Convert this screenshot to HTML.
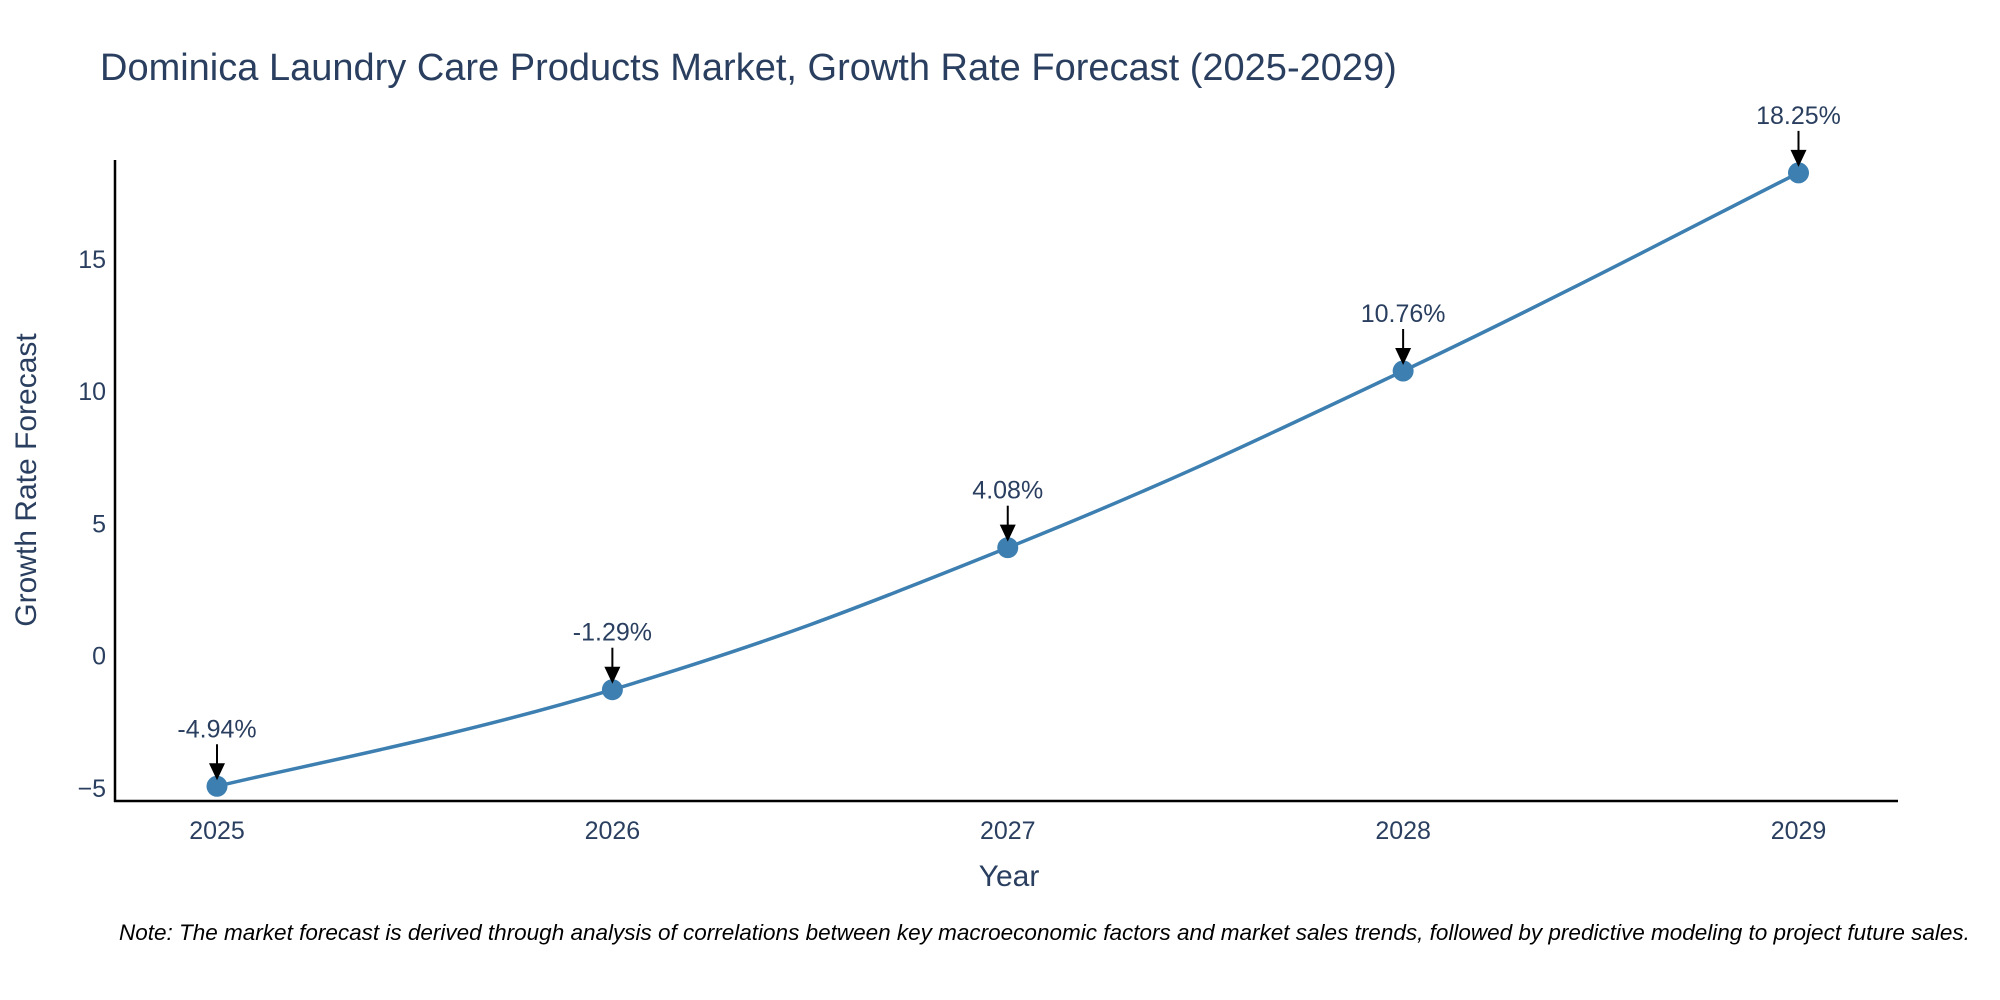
<!DOCTYPE html>
<html><head><meta charset="utf-8"><style>
html,body{margin:0;padding:0;background:#fff}
svg{display:block;font-family:"Liberation Sans","DejaVu Sans",sans-serif}
</style></head><body>
<svg id="chart" width="2000" height="1000" viewBox="0 0 2000 1000">
<text x="100" y="80" font-size="38" fill="#2a3f5f">Dominica Laundry Care Products Market, Growth Rate Forecast (2025-2029)</text>
<g id="plot"></g>
<text x="1009" y="886" font-size="30" fill="#2a3f5f" text-anchor="middle">Year</text>
<text transform="translate(36,480) rotate(-90)" font-size="30" fill="#2a3f5f" text-anchor="middle">Growth Rate Forecast</text>
<text x="119" y="940" font-size="22.5" font-style="italic" fill="#000">Note: The market forecast is derived through analysis of correlations between key macroeconomic factors and market sales trends, followed by predictive modeling to project future sales.</text>
</svg>
<script>
const years = [2025, 2026, 2027, 2028, 2029];
const values = [-4.94, -1.29, 4.08, 10.76, 18.25];
const labels = ["-4.94%", "-1.29%", "4.08%", "10.76%", "18.25%"];
const yTicks = [-5, 0, 5, 10, 15];
const yTickLabels = ["\u22125", "0", "5", "10", "15"];

const NS = "http://www.w3.org/2000/svg";
const g = document.getElementById("plot");
const L = 115, R = 1898, T = 160, B = 801;
const xs = v => 217 + (v - 2025) * (1798.5 - 217) / 4;
const ys = v => 655.6 - v * 26.45;
function mk(tag, attrs) { const e = document.createElementNS(NS, tag); for (const k in attrs) e.setAttribute(k, attrs[k]); g.appendChild(e); return e; }

let ax = mk("line", {x1: L, y1: T, x2: L, y2: B + 1, stroke: "#000", "stroke-width": 2.5});


ax = mk("line", {x1: L - 1, y1: B, x2: R, y2: B, stroke: "#000", "stroke-width": 2.5});



yTicks.forEach((t, i) => {
  const e = mk("text", {x: L - 9, y: ys(t) + 9, "font-size": 25, fill: "#2a3f5f", "text-anchor": "end"});
  e.textContent = yTickLabels[i];
  
  
});
years.forEach(y => {
  const e = mk("text", {x: xs(y), y: B + 38, "font-size": 25, fill: "#2a3f5f", "text-anchor": "middle"});
  e.textContent = y;
  
  
});

const pts = years.map((y, i) => [xs(y), ys(values[i])]);
let d = "M" + pts[0][0] + "," + pts[0][1];
const tt = 0.2;
for (let i = 0; i < pts.length - 1; i++) {
  const p0 = pts[Math.max(0, i - 1)], p1 = pts[i], p2 = pts[i + 1], p3 = pts[Math.min(pts.length - 1, i + 2)];
  const c1 = [p1[0] + (p2[0] - p0[0]) * tt, p1[1] + (p2[1] - p0[1]) * tt];
  const c2 = [p2[0] - (p3[0] - p1[0]) * tt, p2[1] - (p3[1] - p1[1]) * tt];
  d += " C" + c1 + " " + c2 + " " + p2;
}
const line = mk("path", {d: d, fill: "none", stroke: "#3d7fb0", "stroke-width": 3.5});



pts.forEach((p, i) => {
  const c = mk("circle", {cx: p[0], cy: p[1], r: 10.5, fill: "#3d7fb0"});
  
  
  const a = mk("line", {x1: p[0], y1: p[1] - 42, x2: p[0], y2: p[1] - 22, stroke: "#000", "stroke-width": 2});
  
  
  const h = mk("polygon", {points: `${p[0]-8},${p[1]-23} ${p[0]+8},${p[1]-23} ${p[0]},${p[1]-6}`, fill: "#000"});
  
  
  const t = mk("text", {x: p[0], y: p[1] - 49, "font-size": 25, fill: "#2a3f5f", "text-anchor": "middle"});
  t.textContent = labels[i];
  
  
});
</script>
</body></html>
